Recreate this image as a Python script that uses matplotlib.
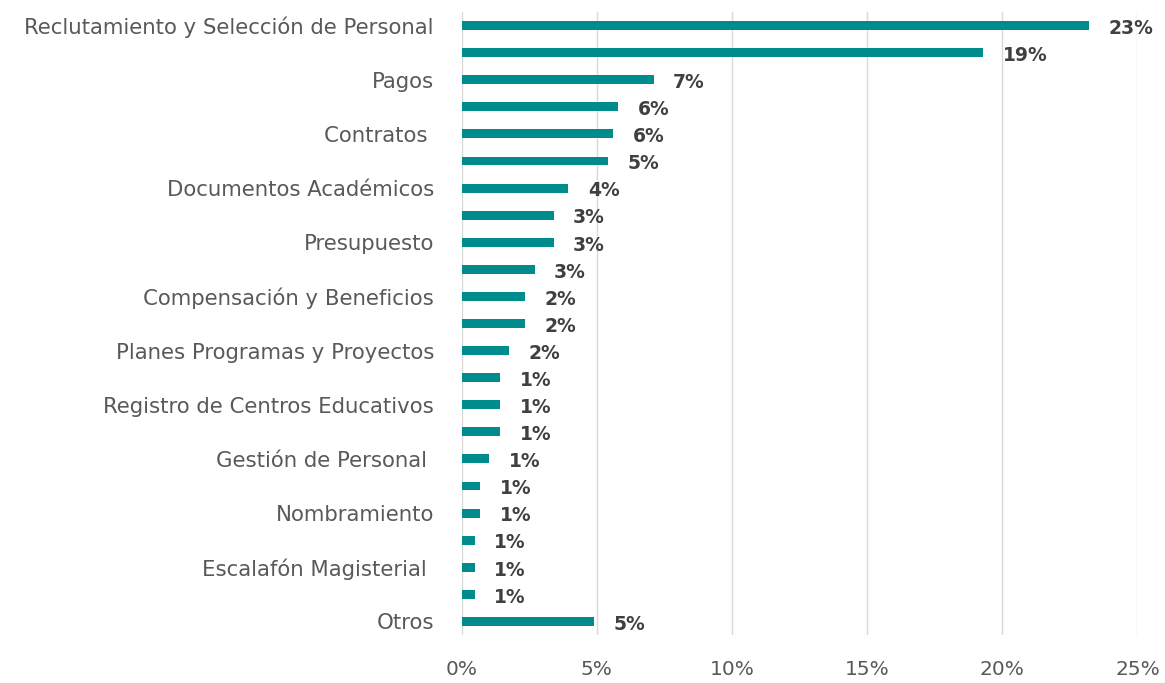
import matplotlib.pyplot as plt
from matplotlib.ticker import PercentFormatter

# categorias (solo se rotula una de cada dos, como en el original)
categorias = [
    "Reclutamiento y Selección de Personal", "",
    "Pagos", "",
    "Contratos ", "",
    "Documentos Académicos", "",
    "Presupuesto", "",
    "Compensación y Beneficios", "",
    "Planes Programas y Proyectos", "",
    "Registro de Centros Educativos", "",
    "Gestión de Personal ", "",
    "Nombramiento", "",
    "Escalafón Magisterial ", "",
    "Otros",
]
porcentajes = [23.2, 19.3, 7.1, 5.8, 5.6, 5.4, 3.95, 3.4, 3.4, 2.7, 2.35, 2.35,
               1.75, 1.42, 1.42, 1.42, 1.02, 0.69, 0.69, 0.48, 0.48, 0.48, 4.9]
etiquetas = ["23%", "19%", "7%", "6%", "6%", "5%", "4%", "3%", "3%", "3%", "2%", "2%",
             "2%", "1%", "1%", "1%", "1%", "1%", "1%", "1%", "1%", "1%", "5%"]

plt.rcParams['font.family'] = ['DejaVu Sans']

fig = plt.figure(figsize=(11.65, 6.83), dpi=100)
ax = fig.add_axes([0.3963, 0.0703, 0.5800, 0.9121])

y = list(range(len(categorias)))
ax.barh(y, porcentajes, height=0.33, color='#008C8C', zorder=3)

for yi, v, t in zip(y, porcentajes, etiquetas):
    ax.annotate(t, (v, yi), xytext=(14, -2), textcoords='offset points',
                va='center', ha='left', fontsize=13.5, fontweight='bold', color='#404040')

ax.set_yticks(y)
ax.set_yticklabels(categorias)
ax.set_ylim(len(categorias) - 0.5, -0.5)
ax.set_xlim(0, 25)
ax.set_xticks([0, 5, 10, 15, 20, 25])
ax.xaxis.set_major_formatter(PercentFormatter(decimals=0))

ax.tick_params(axis='y', length=0, pad=20, labelsize=15.3, labelcolor='#595959')
ax.tick_params(axis='x', length=0, pad=18, labelsize=14.5, labelcolor='#595959')
ax.grid(axis='x', color='#D9D9D9', linewidth=1, zorder=0)
for s in ax.spines.values():
    s.set_visible(False)

fig.savefig('out.png', dpi=100)
